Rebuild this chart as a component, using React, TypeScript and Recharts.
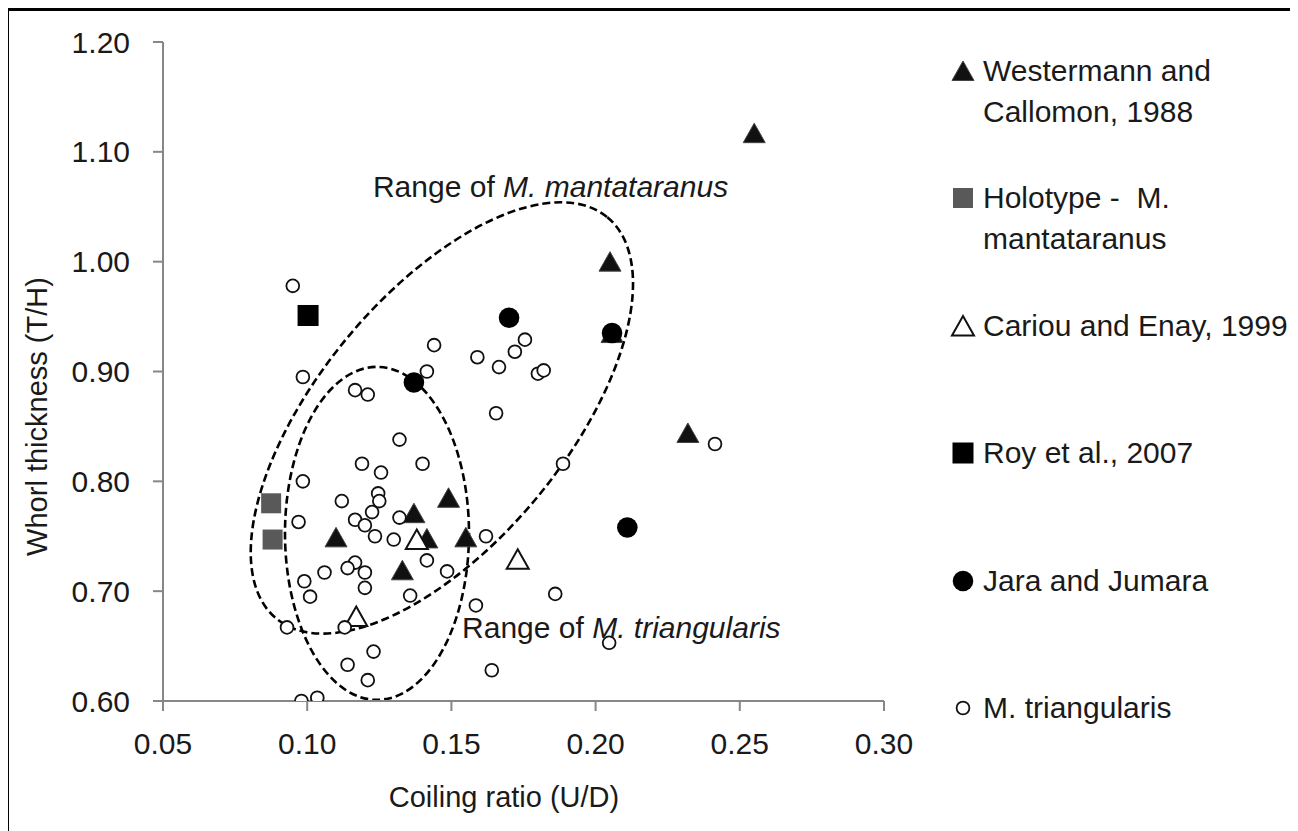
import React from 'react';
import { ScatterChart, Scatter, XAxis, YAxis, Legend, ReferenceArea, ReferenceDot } from 'recharts';

type Pt = { x: number; y: number };

const xTicks = [0.05, 0.1, 0.15, 0.2, 0.25, 0.3];
const yTicks = [0.6, 0.7, 0.8, 0.9, 1.0, 1.1, 1.2];

// Westermann and Callomon, 1988
const westermann: Pt[] = [
    { x: 0.255, y: 1.117 }, { x: 0.205, y: 1.0 }, { x: 0.2057, y: 0.935 }, { x: 0.232, y: 0.844 },
    { x: 0.149, y: 0.785 }, { x: 0.137, y: 0.771 }, { x: 0.11, y: 0.749 }, { x: 0.1415, y: 0.748 },
    { x: 0.155, y: 0.749 }, { x: 0.133, y: 0.719 },
];

// Holotype - M. mantataranus
const holotype: Pt[] = [
    { x: 0.0875, y: 0.78 }, { x: 0.088, y: 0.747 },
];

// Cariou and Enay, 1999
const cariou: Pt[] = [
    { x: 0.138, y: 0.747 }, { x: 0.117, y: 0.677 }, { x: 0.173, y: 0.729 },
];

// Roy et al., 2007
const roy: Pt[] = [
    { x: 0.1003, y: 0.951 },
];

// Jara and Jumara
const jara: Pt[] = [
    { x: 0.17, y: 0.949 }, { x: 0.137, y: 0.89 }, { x: 0.2057, y: 0.935 }, { x: 0.211, y: 0.758 },
];

// M. triangularis
const triangularis: Pt[] = [
    { x: 0.095, y: 0.978 }, { x: 0.0985, y: 0.895 }, { x: 0.144, y: 0.924 }, { x: 0.1415, y: 0.9 },
    { x: 0.1166, y: 0.883 }, { x: 0.121, y: 0.879 }, { x: 0.159, y: 0.913 }, { x: 0.1665, y: 0.904 },
    { x: 0.1755, y: 0.929 }, { x: 0.172, y: 0.918 }, { x: 0.18, y: 0.898 }, { x: 0.182, y: 0.901 },
    { x: 0.1655, y: 0.862 }, { x: 0.132, y: 0.838 }, { x: 0.119, y: 0.816 }, { x: 0.1256, y: 0.808 },
    { x: 0.14, y: 0.816 }, { x: 0.0985, y: 0.8 }, { x: 0.1246, y: 0.789 }, { x: 0.125, y: 0.782 },
    { x: 0.112, y: 0.782 }, { x: 0.1225, y: 0.772 }, { x: 0.1166, y: 0.765 }, { x: 0.12, y: 0.76 },
    { x: 0.1235, y: 0.75 }, { x: 0.097, y: 0.763 }, { x: 0.132, y: 0.767 }, { x: 0.13, y: 0.747 },
    { x: 0.1415, y: 0.728 }, { x: 0.1485, y: 0.718 }, { x: 0.1166, y: 0.726 }, { x: 0.114, y: 0.721 },
    { x: 0.12, y: 0.717 }, { x: 0.12, y: 0.703 }, { x: 0.106, y: 0.717 }, { x: 0.099, y: 0.709 },
    { x: 0.101, y: 0.695 }, { x: 0.1357, y: 0.696 }, { x: 0.162, y: 0.75 }, { x: 0.1585, y: 0.687 },
    { x: 0.093, y: 0.667 }, { x: 0.113, y: 0.667 }, { x: 0.123, y: 0.645 }, { x: 0.114, y: 0.633 },
    { x: 0.121, y: 0.619 }, { x: 0.098, y: 0.6 }, { x: 0.1035, y: 0.603 }, { x: 0.164, y: 0.628 },
    { x: 0.2414, y: 0.834 }, { x: 0.1887, y: 0.816 }, { x: 0.186, y: 0.6975 }, { x: 0.2047, y: 0.653 },
];

// dashed range outlines: centre and half-axes in data units, tilt in degrees
const rangeEllipses = [
    { cx: 0.1467, cy: 0.8577, rx: 0.0902, ry: 0.1129, tilt: -50.5 },
    { cx: 0.1242, cy: 0.7526, rx: 0.0319, ry: 0.1516, tilt: 0 },
];

const rangeLabels = [
    { x: 0.1228, y: 1.059, prefix: 'Range of ', species: 'M. mantataranus' },
    { x: 0.1537, y: 0.6574, prefix: 'Range of ', species: 'M. triangularis' },
];

const FONT = '"Liberation Sans", Arial, sans-serif';
const INK = '#1a1a1a';
const AXIS = '#878787';

type Marker = 'triangle' | 'openTriangle' | 'graySquare' | 'blackSquare' | 'dot' | 'ring';

const drawMarker = (m: Marker, cx: number, cy: number) => {
    switch (m) {
        case 'triangle':
        case 'openTriangle': {
            const pts = `${cx},${cy - 10} ${cx + 11},${cy + 9.5} ${cx - 11},${cy + 9.5}`;
            return m === 'triangle'
                ? <polygon points={pts} fill="#111" stroke="#444" strokeWidth={1} />
                : <polygon points={pts} fill="#fff" stroke="#111" strokeWidth={2} strokeLinejoin="miter" />;
        }
        case 'graySquare':
            return <rect x={cx - 10} y={cy - 10} width={20} height={20} fill="#595959" />;
        case 'blackSquare':
            return <rect x={cx - 10.5} y={cy - 10.5} width={21} height={21} fill="#000" />;
        case 'dot':
            return <circle cx={cx} cy={cy} r={10.3} fill="#000" />;
        default:
            return <circle cx={cx} cy={cy} r={6.4} fill="#fff" stroke="#111" strokeWidth={1.8} />;
    }
};

const series: { name: string; lines: string[]; data: Pt[]; marker: Marker }[] = [
    { name: 'Westermann and Callomon, 1988', lines: ['Westermann and', 'Callomon, 1988'], data: westermann, marker: 'triangle' },
    { name: 'Holotype -  M. mantataranus', lines: ['Holotype -  M.', 'mantataranus'], data: holotype, marker: 'graySquare' },
    { name: 'Cariou and Enay, 1999', lines: ['Cariou and Enay, 1999'], data: cariou, marker: 'openTriangle' },
    { name: 'Roy et al., 2007', lines: ['Roy et al., 2007'], data: roy, marker: 'blackSquare' },
    { name: 'Jara and Jumara', lines: ['Jara and Jumara'], data: jara, marker: 'dot' },
    { name: 'M. triangularis', lines: ['M. triangularis'], data: triangularis, marker: 'ring' },
];

const ellipseShape = (tilt: number) => (props: any) => {
    const { x, y, width, height } = props;
    const cx = x + width / 2;
    const cy = y + height / 2;
    return (
        <ellipse
            cx={cx} cy={cy} rx={Math.abs(width) / 2} ry={Math.abs(height) / 2}
            transform={`rotate(${tilt} ${cx} ${cy})`}
            fill="none" stroke="#000" strokeWidth={2.6} strokeDasharray="8 4"
        />
    );
};

const renderLegend = () => (
    <div style={{ position: 'relative', width: 360, height: 823, fontFamily: FONT }}>
        {series.map((s, i) => (
            <div key={s.name} style={{ position: 'absolute', left: 0, top: 42 + i * 127.4 }}>
                <svg width={26} height={26} style={{ position: 'absolute', left: 12, top: 8 }}>
                    {drawMarker(s.marker, 13, 13)}
                </svg>
                <div style={{ position: 'absolute', left: 45, top: 0, fontSize: 30, lineHeight: '41px', color: INK, whiteSpace: 'pre' }}>
                    {s.lines.map((l) => <div key={l}>{l}</div>)}
                </div>
            </div>
        ))}
    </div>
);

const App: React.FC = () => {
    return (
        <div style={{ position: 'relative', width: 1290, height: 823 }}>
            <ScatterChart width={1290} height={823} margin={{ top: 34, right: 414, bottom: 24, left: 0 }} style={{ fontFamily: FONT }}>
                <XAxis
                    type="number" dataKey="x" domain={[0.05, 0.3]} ticks={xTicks} allowDataOverflow
                    tickFormatter={(v: number) => v.toFixed(2)}
                    height={106} tickSize={10} tickMargin={22}
                    axisLine={{ stroke: AXIS, strokeWidth: 2 }} tickLine={{ stroke: AXIS, strokeWidth: 2 }}
                    tick={{ fontSize: 30, fill: INK }}
                    label={{ value: 'Coiling ratio (U/D)', position: 'insideBottom', offset: 0, dx: -19.5, fontSize: 29, fill: INK }}
                />
                <YAxis
                    type="number" dataKey="y" domain={[0.6, 1.2]} ticks={yTicks} allowDataOverflow
                    tickFormatter={(v: number) => v.toFixed(2)}
                    width={155} tickSize={10} tickMargin={23}
                    axisLine={{ stroke: AXIS, strokeWidth: 2 }} tickLine={{ stroke: AXIS, strokeWidth: 2 }}
                    tick={{ fontSize: 30, fill: INK }}
                    label={{ value: 'Whorl thickness (T/H)', angle: -90, position: 'insideLeft', dx: 24, dy: 45, fontSize: 29, fill: INK, style: { textAnchor: 'middle' } }}
                />
                {series.map((s) => (
                    <Scatter
                        key={s.name} name={s.name} data={s.data} isAnimationActive={false}
                        shape={(p: any) => drawMarker(s.marker, p.cx, p.cy)}
                    />
                ))}
                {rangeEllipses.map((e, i) => (
                    <ReferenceArea
                        key={`ell-${i}`} x1={e.cx - e.rx} x2={e.cx + e.rx} y1={e.cy - e.ry} y2={e.cy + e.ry}
                        ifOverflow="visible" shape={ellipseShape(e.tilt)}
                    />
                ))}
                {rangeLabels.map((l) => (
                    <ReferenceDot
                        key={l.species} x={l.x} y={l.y} r={0} ifOverflow="visible"
                        shape={(p: any) => (
                            <text x={p.cx} y={p.cy} fontSize={30} fill={INK} fontFamily={FONT}>
                                {l.prefix}<tspan fontStyle="italic">{l.species}</tspan>
                            </text>
                        )}
                    />
                ))}
                <Legend
                    layout="vertical" align="center" verticalAlign="middle"
                    wrapperStyle={{ left: 930, top: 0, width: 360, height: 823, pointerEvents: 'none' }}
                    content={renderLegend}
                />
            </ScatterChart>
            <div style={{ position: 'absolute', left: -2, top: 0, width: 1292, height: 823, borderLeft: '3px solid #000', borderTop: '3px solid #000', boxSizing: 'border-box', pointerEvents: 'none' }} />
        </div>
    );
};

export default App;
